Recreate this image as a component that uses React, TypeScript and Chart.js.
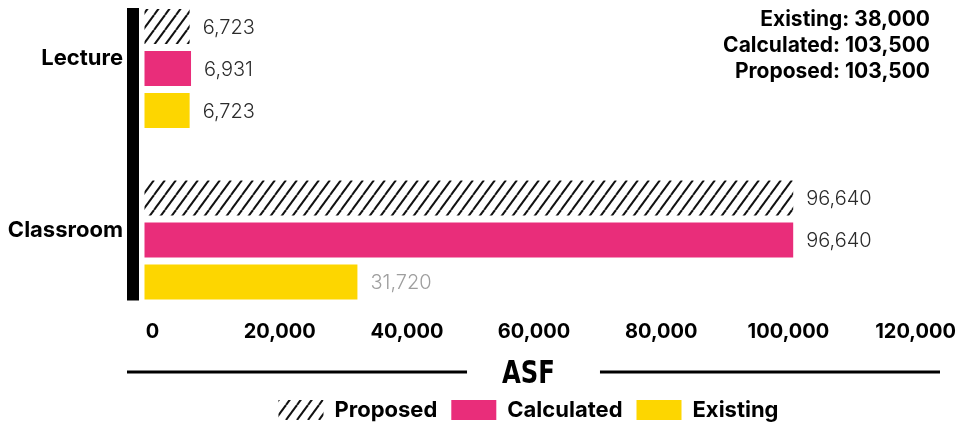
import React, { useEffect, useRef } from 'react';
import { Chart, registerables } from 'chart.js';

Chart.register(...registerables);

// ---- data ----
const categories = ['Lecture', 'Classroom'];
const seriesNames = ['Proposed', 'Calculated', 'Existing'];
const proposedValues = [6723, 96640];
const calculatedValues = [6931, 96640];
const existingValues = [6723, 31720];
const tickValues = [0, 20000, 40000, 60000, 80000, 100000, 120000];
const summaryLabels = ['Existing', 'Calculated', 'Proposed'];
const summaryValues = [38000, 103500, 103500];
const axisTitle = 'ASF';

// ---- styles ----
const PINK = '#e92d7a';
const YELLOW = '#fdd600';
const DARK_LABEL = '#2b2b2b';
const LIGHT_LABEL = '#9e9e9e';
const valueLabelColors = [
  [DARK_LABEL, DARK_LABEL],
  [DARK_LABEL, DARK_LABEL],
  [DARK_LABEL, LIGHT_LABEL],
];
const FONT = 'Inter, "Noto Sans", sans-serif';
const TITLE_FONT = 'bold 32px "DejaVu Sans", sans-serif';
const CAT_FONT = { family: FONT, size: 22, weight: 'bold' };

const fmt = (v: number) => Number(v).toLocaleString('en-US');

function makeHatch(): CanvasPattern | string {
  const w = 11;
  const h = 15;
  const c = document.createElement('canvas');
  c.width = w;
  c.height = h;
  const g = c.getContext('2d');
  if (!g) return '#000';
  g.strokeStyle = '#111';
  g.lineWidth = 2;
  for (let k = -1; k <= 1; k++) {
    g.beginPath();
    g.moveTo(k * w, h);
    g.lineTo(k * w + w, 0);
    g.stroke();
  }
  return g.createPattern(c, 'repeat') || '#000';
}

const valueLabelPlugin = {
  id: 'valueLabels',
  afterDatasetsDraw(chart: any) {
    const { ctx } = chart;
    ctx.save();
    ctx.font = `300 20px ${FONT}`;
    ctx.textAlign = 'left';
    ctx.textBaseline = 'middle';
    chart.data.datasets.forEach((ds: any, di: number) => {
      chart.getDatasetMeta(di).data.forEach((el: any, i: number) => {
        ctx.fillStyle = valueLabelColors[di][i];
        ctx.fillText(fmt(ds.data[i]), el.x + 13, el.y + 1);
      });
    });
    ctx.restore();
  },
};

const decorPlugin = {
  id: 'decor',
  afterDraw(chart: any) {
    const { ctx } = chart;
    const xs = chart.scales.x;
    const x2 = chart.scales.x2;
    const zero = xs.getPixelForValue(0);
    const first = chart.getDatasetMeta(0).data[0];
    const last = chart.getDatasetMeta(2).data[1];
    const top = first.y - first.height / 2 - 1;
    const bottom = last.y + last.height / 2 + 1;
    const lineLeft = zero - 17.5;
    ctx.save();
    ctx.fillStyle = '#000';
    // thick category rule
    ctx.fillRect(lineLeft, top, 12, bottom - top);
    // condensed axis title with rules on both sides
    const squeeze = 0.76;
    ctx.font = TITLE_FONT;
    const tw = ctx.measureText(axisTitle).width * squeeze;
    const cx = (x2.left + x2.right) / 2;
    const baseY = x2.bottom - 2;
    const ruleY = baseY - 11;
    ctx.save();
    ctx.translate(cx, baseY);
    ctx.scale(squeeze, 1);
    ctx.textAlign = 'center';
    ctx.textBaseline = 'alphabetic';
    ctx.fillText(axisTitle, 0, 0);
    ctx.restore();
    ctx.fillRect(lineLeft, ruleY - 1.5, cx - tw / 2 - 35 - lineLeft, 3);
    const rStart = cx + tw / 2 + 45;
    ctx.fillRect(rStart, ruleY - 1.5, chart.chartArea.right - 10 - rStart, 3);
    // summary block
    ctx.font = `bold 21px ${FONT}`;
    ctx.textAlign = 'right';
    ctx.textBaseline = 'middle';
    summaryLabels.forEach((l, i) => {
      ctx.fillText(`${l}: ${fmt(summaryValues[i])}`, chart.width - 27, 20 + i * 26);
    });
    ctx.restore();
  },
};

export default function App() {
  const ref = useRef<HTMLCanvasElement | null>(null);

  useEffect(() => {
    document.body.style.margin = '0';
    const canvas = ref.current;
    if (!canvas) return;
    const hatch = makeHatch();
    // widest category label, so that mirrored labels end just left of the rule
    const mctx = canvas.getContext('2d');
    let widest = 115;
    if (mctx) {
      mctx.font = `bold 22px ${FONT}`;
      widest = Math.max(...categories.map((c) => mctx.measureText(c).width));
    }
    const chart = new Chart(canvas, {
      type: 'bar',
      data: {
        labels: categories,
        datasets: [
          { label: seriesNames[0], data: proposedValues, backgroundColor: hatch as any },
          { label: seriesNames[1], data: calculatedValues, backgroundColor: PINK },
          { label: seriesNames[2], data: existingValues, backgroundColor: YELLOW },
        ].map((d) => ({
          ...d,
          xAxisID: 'x',
          yAxisID: 'y',
          borderWidth: 0,
          clip: false as any,
          categoryPercentage: 0.7347,
          barPercentage: 0.8333,
        })),
      },
      options: {
        indexAxis: 'y',
        animation: false,
        responsive: false,
        devicePixelRatio: 1,
        events: [],
        layout: { padding: { top: 68.5, left: 107, right: 7, bottom: -3 } },
        scales: {
          x: {
            type: 'linear',
            position: 'bottom',
            weight: 0,
            min: -5587,
            max: 120000,
            ticks: { display: false },
            grid: { display: false, drawTicks: false },
            border: { display: false },
            afterFit(s: any) {
              s.height = 80;
            },
          },
          x2: {
            type: 'linear',
            position: 'bottom',
            weight: 1,
            min: -7172,
            max: 125417,
            afterBuildTicks(s: any) {
              s.ticks = tickValues.map((v) => ({ value: v }));
            },
            ticks: {
              padding: 0,
              autoSkip: false,
              maxRotation: 0,
              color: '#000',
              font: { family: FONT, size: 20, weight: 'bold' },
              callback: (v: any) => fmt(v),
            },
            grid: { display: false, drawTicks: false },
            border: { display: false },
            title: { display: false, text: axisTitle },
            afterFit(s: any) {
              s.height = 65;
            },
          },
          y: {
            type: 'category',
            position: 'left',
            offset: false,
            grid: { display: false, drawTicks: false },
            border: { display: false },
            ticks: {
              color: '#000',
              mirror: true,
              crossAlign: 'far',
              padding: 16 - widest,
              labelOffset: -10,
              font: CAT_FONT,
            },
            afterFit(s: any) {
              s.width = 0;
            },
          },
        } as any,
        plugins: {
          tooltip: { enabled: false },
          legend: {
            position: 'bottom',
            labels: {
              boxWidth: 45,
              boxHeight: 20,
              padding: 14,
              color: '#000',
              font: { family: FONT, size: 22, weight: 'bold' },
            },
          },
        },
      } as any,
      plugins: [valueLabelPlugin, decorPlugin],
    });
    return () => chart.destroy();
  }, []);

  return <canvas ref={ref} width={957} height={428} style={{ display: 'block' }} />;
}
